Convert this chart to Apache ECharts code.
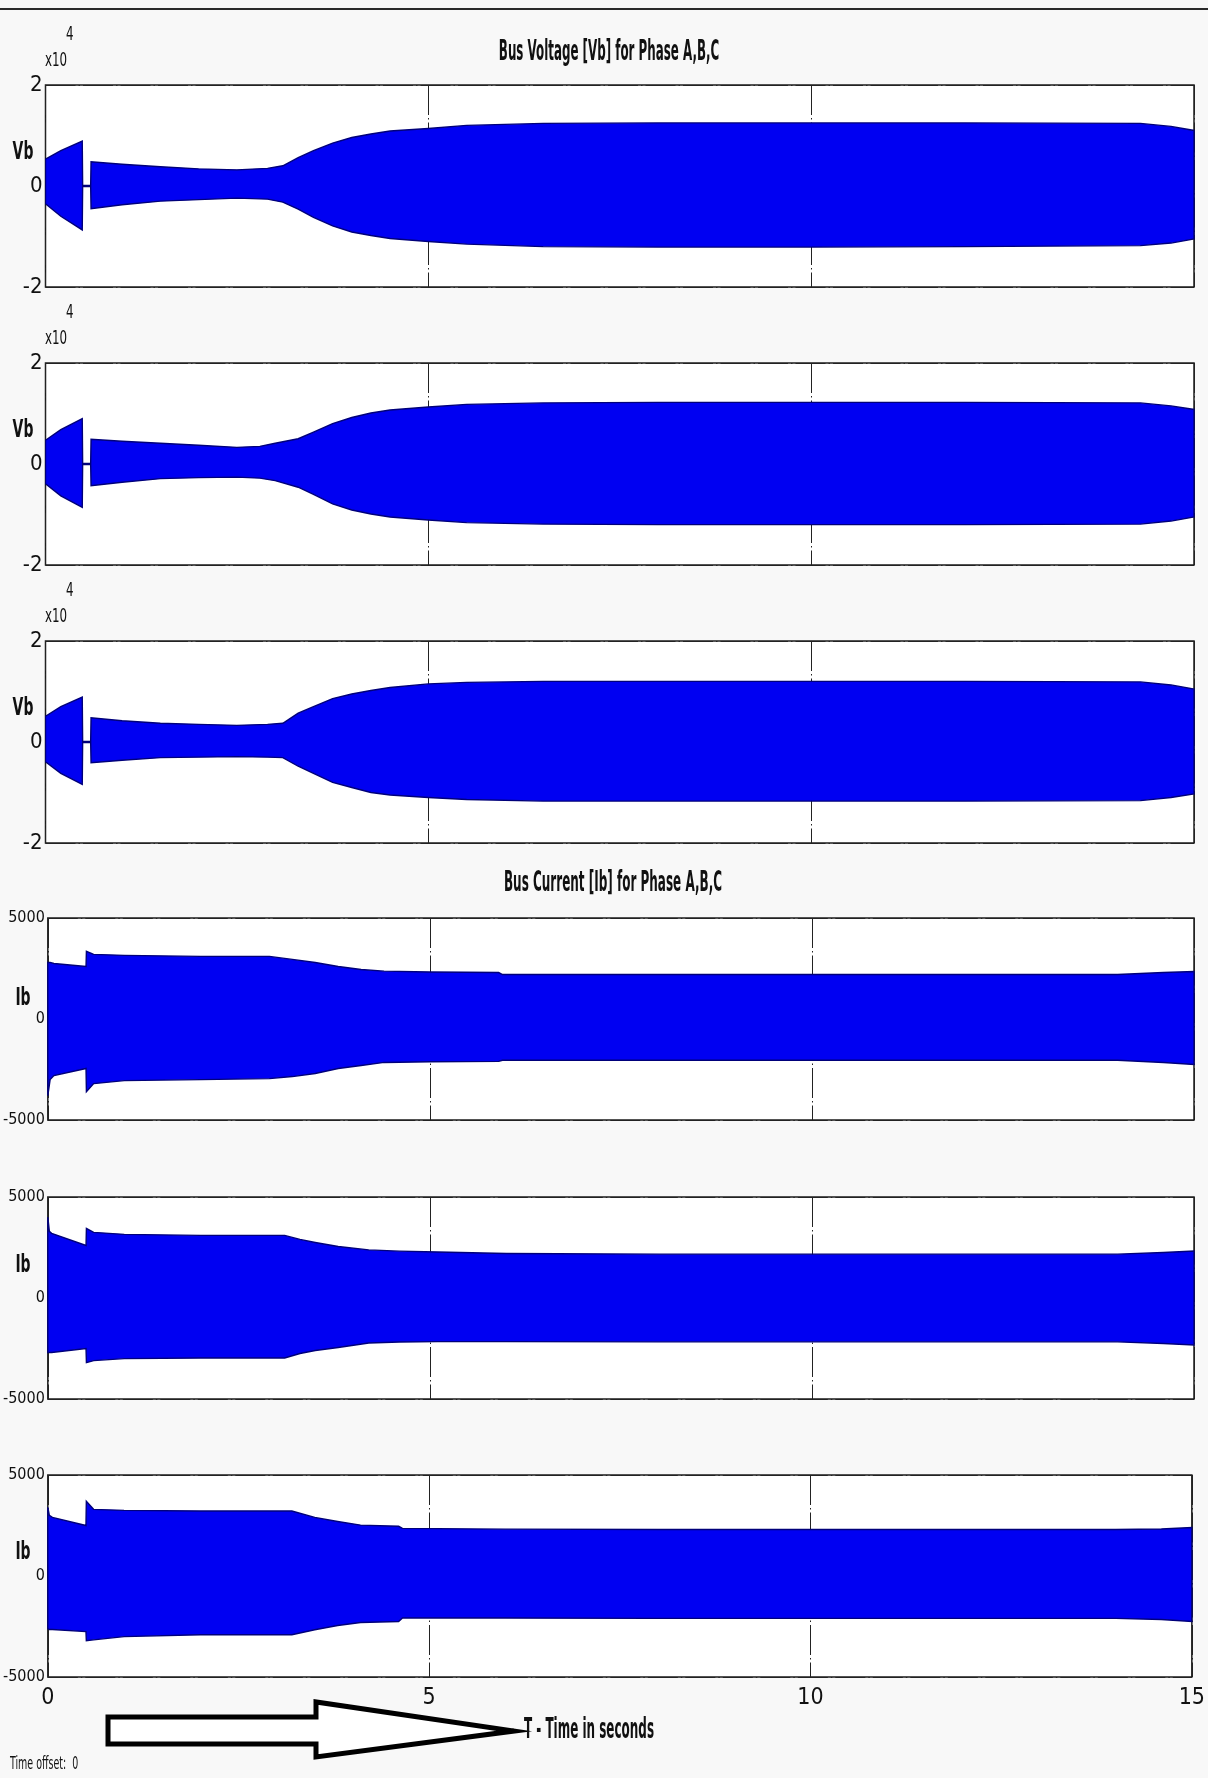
<!DOCTYPE html>
<html><head><meta charset="utf-8">
<script src="https://cdn.jsdelivr.net/npm/echarts@6/dist/echarts.min.js"></script>
<style>html,body{margin:0;padding:0;background:#f8f8f8;}#c{width:1208px;height:1778px;}</style>
</head><body><div id="c"></div>
<script>
// ---- data ----
const xTicks = [0, 5, 10, 15];
const voltTicks = [-20000, 0, 20000];
const currTicks = [-5000, 0, 5000];

// Bus voltage envelopes (V)
const tVa  = [0, 0.2, 0.48, 0.485, 0.59, 0.595, 1.0, 1.5, 2.0, 2.5, 2.9, 3.1, 3.3, 3.5, 3.75, 4.0, 4.25, 4.5, 5.0, 5.5, 6.5, 8, 10, 12, 14.3, 14.7, 15];
const vaUp = [5300, 7000, 8900, 100, 100, 4800, 4300, 3800, 3400, 3200, 3500, 4000, 5600, 7000, 8500, 9600, 10300, 10900, 11400, 12000, 12400, 12500, 12500, 12500, 12400, 11800, 11000];
const vaLo = [-3500, -6000, -8700, -100, -100, -4500, -3700, -3000, -2700, -2400, -2600, -3200, -4600, -6200, -7900, -9100, -9800, -10400, -11000, -11500, -12000, -12100, -12100, -12000, -11800, -11300, -10500];

const tVb  = [0, 0.2, 0.48, 0.485, 0.59, 0.595, 1.0, 1.5, 2.0, 2.5, 2.8, 3.0, 3.3, 3.5, 3.75, 4.0, 4.25, 4.5, 5.0, 5.5, 6.5, 8, 10, 12, 14.3, 14.7, 15];
const vbUp = [4700, 6800, 9000, 100, 100, 4900, 4500, 4100, 3700, 3300, 3500, 4100, 5000, 6300, 8000, 9200, 10100, 10700, 11300, 11800, 12100, 12200, 12200, 12200, 12100, 11500, 10800];
const vbLo = [-3900, -6300, -8600, -100, -100, -4300, -3600, -2900, -2700, -2600, -2800, -3300, -4600, -6000, -7900, -9100, -9900, -10500, -11100, -11600, -11900, -12000, -12000, -12000, -11900, -11300, -10500];

const tVc  = [0, 0.2, 0.48, 0.485, 0.59, 0.595, 1.0, 1.5, 2.0, 2.5, 2.9, 3.1, 3.3, 3.5, 3.75, 4.0, 4.25, 4.5, 5.0, 5.5, 6.5, 8, 10, 12, 14.3, 14.7, 15];
const vcUp = [5100, 7000, 8900, 100, 100, 4800, 4200, 3700, 3500, 3300, 3500, 3700, 5700, 7000, 8600, 9500, 10200, 10800, 11500, 11800, 12000, 12000, 12000, 12000, 11900, 11300, 10500];
const vcLo = [-3900, -6200, -8400, -100, -100, -4100, -3600, -3100, -3000, -2900, -3000, -3100, -4800, -6200, -8000, -9000, -10000, -10500, -11000, -11400, -11700, -11700, -11700, -11700, -11600, -11000, -10300];

// Bus current envelopes (A)
const tIa  = [0, 0.03, 0.08, 0.5, 0.505, 0.6, 1.0, 2.0, 2.9, 3.2, 3.5, 3.8, 4.1, 4.4, 5.0, 5.9, 5.95, 8, 10, 12, 14, 14.6, 15];
const iaUp = [2800, 2800, 2750, 2600, 3350, 3200, 3150, 3100, 3100, 2950, 2800, 2600, 2450, 2370, 2330, 2300, 2200, 2200, 2200, 2200, 2200, 2300, 2350];
const iaLo = [-3800, -3000, -2800, -2450, -3600, -3200, -3050, -3000, -2950, -2850, -2700, -2450, -2300, -2150, -2120, -2100, -2040, -2040, -2040, -2040, -2040, -2150, -2250];

const tIb  = [0, 0.02, 0.05, 0.5, 0.505, 0.6, 1.0, 2.0, 3.1, 3.3, 3.5, 3.8, 4.2, 4.6, 5.1, 6.0, 8, 10, 12, 14, 14.6, 15];
const ibUp = [4000, 3300, 3200, 2600, 3450, 3250, 3150, 3100, 3100, 2900, 2750, 2550, 2380, 2320, 2280, 2200, 2170, 2170, 2170, 2170, 2250, 2330];
const ibLo = [-2700, -2700, -2700, -2500, -3200, -3100, -3000, -2970, -2970, -2750, -2600, -2450, -2230, -2180, -2160, -2160, -2170, -2170, -2170, -2170, -2250, -2330];

const tIc  = [0, 0.02, 0.06, 0.5, 0.505, 0.6, 1.0, 2.0, 3.2, 3.5, 3.8, 4.1, 4.6, 4.65, 6.0, 8, 10, 12, 14, 14.6, 15];
const icUp = [3400, 3000, 2900, 2500, 3700, 3300, 3250, 3220, 3220, 2900, 2700, 2520, 2460, 2360, 2320, 2300, 2300, 2300, 2300, 2330, 2400];
const icLo = [-2600, -2650, -2650, -2750, -3200, -3160, -3000, -2910, -2910, -2660, -2450, -2300, -2250, -2080, -2080, -2100, -2100, -2100, -2100, -2150, -2250];

// ---- chart ----
const panels = [
  {t: tVa, up: vaUp, lo: vaLo, kind: 'V', name: 'Vb'},
  {t: tVb, up: vbUp, lo: vbLo, kind: 'V', name: 'Vb'},
  {t: tVc, up: vcUp, lo: vcLo, kind: 'V', name: 'Vb'},
  {t: tIa, up: iaUp, lo: iaLo, kind: 'I', name: 'Ib'},
  {t: tIb, up: ibUp, lo: ibLo, kind: 'I', name: 'Ib'},
  {t: tIc, up: icUp, lo: icLo, kind: 'I', name: 'Ib'}
];
const tops = [85, 363, 641, 918, 1197, 1475];
const H = 202;
const NARROW = "'Liberation Sans Narrow','DejaVu Sans Condensed','Liberation Sans',sans-serif";

const grid = panels.map((p, i) => ({
  left: 45.5, right: 14, top: tops[i], height: H, show: true,
  backgroundColor: '#ffffff', borderColor: '#1c1c1c', borderWidth: 1.5
}));
const xAxis = panels.map((p, i) => ({
  type: 'value', gridIndex: i, min: xTicks[0], max: xTicks[xTicks.length - 1],
  interval: xTicks[1] - xTicks[0],
  axisLine: {show: false}, axisTick: {show: false},
  axisLabel: {show: i === panels.length - 1, fontFamily: NARROW, fontSize: 23, color: '#111', margin: 10},
  splitLine: {show: true, lineStyle: {color: '#222', width: 1, type: [30, 3, 1.5, 3]}}
}));
const yAxis = panels.map((p, i) => {
  const ticks = p.kind === 'V' ? voltTicks : currTicks;
  return {
    type: 'value', gridIndex: i, min: ticks[0], max: ticks[ticks.length - 1],
    interval: ticks[1] - ticks[0],
    axisLine: {show: false}, axisTick: {show: false},
    axisLabel: {
      fontFamily: NARROW, fontSize: p.kind === 'V' ? 22 : 16, color: '#111', margin: 3,
      formatter: v => p.kind === 'V' ? String(v / 10000) : String(v)
    },
    splitLine: {show: true, lineStyle: {color: '#222', width: 1, type: [30, 3, 1.5, 3]}}
  };
});
const series = panels.map((p, i) => ({
  type: 'custom', xAxisIndex: i, yAxisIndex: i, clip: true, silent: true,
  data: p.t.map((t, k) => [t, p.up[k], p.lo[k]]),
  renderItem: (params, api) => {
    if (params.dataIndex !== 0) return null;
    const pts = [];
    for (let k = 0; k < p.t.length; k++) pts.push(api.coord([p.t[k], p.up[k]]));
    for (let k = p.t.length - 1; k >= 0; k--) pts.push(api.coord([p.t[k], p.lo[k]]));
    return {type: 'polygon', shape: {points: pts},
      style: {fill: '#0000f2', stroke: '#00007a', lineWidth: 1.4}};
  }
}));

const g = [];
g.push({type: 'line', shape: {x1: 0, y1: 9, x2: 1208, y2: 9}, style: {stroke: '#2a2a2a', lineWidth: 2}});
const txt = (text, x, y, size, bold, sx, align) => ({
  type: 'text', x: x, y: y, scaleX: sx,
  style: {text: text, fontFamily: NARROW, fontSize: size, fontWeight: bold ? 'bold' : 'normal',
    fill: '#111', align: align || 'center', verticalAlign: 'middle'}
});
g.push(txt('Bus Voltage [Vb] for Phase A,B,C', 609, 52, 29, true, 0.455));
g.push(txt('Bus Current [Ib] for Phase A,B,C', 613, 883, 29, true, 0.46));
const nameY = [152, 430, 708, 998, 1265, 1552];
panels.forEach((p, i) => {
  g.push(txt(p.name, 23, nameY[i], 25, true, 0.62));
  if (p.kind === 'V') {
    g.push(txt('x10', 45, tops[i] - 24, 20, false, 0.66, 'left'));
    g.push(txt('4', 66, tops[i] - 50, 20, false, 0.66, 'left'));
  }
});
g.push({type: 'polygon', shape: {points: [[108, 1717], [316, 1717], [316, 1702], [514, 1731], [316, 1757], [316, 1744], [108, 1744]]},
  style: {fill: '#ffffff', stroke: '#000', lineWidth: 5, lineJoin: 'miter'}});
g.push(txt('T - Time in seconds', 524, 1731, 28, true, 0.475, 'left'));
g.push(txt('Time offset:  0', 10, 1765, 17, false, 0.62, 'left'));

const chart = echarts.init(document.getElementById('c'));
chart.setOption({
  backgroundColor: '#f8f8f8', animation: false,
  grid, xAxis, yAxis, series, graphic: g
});
</script></body></html>
